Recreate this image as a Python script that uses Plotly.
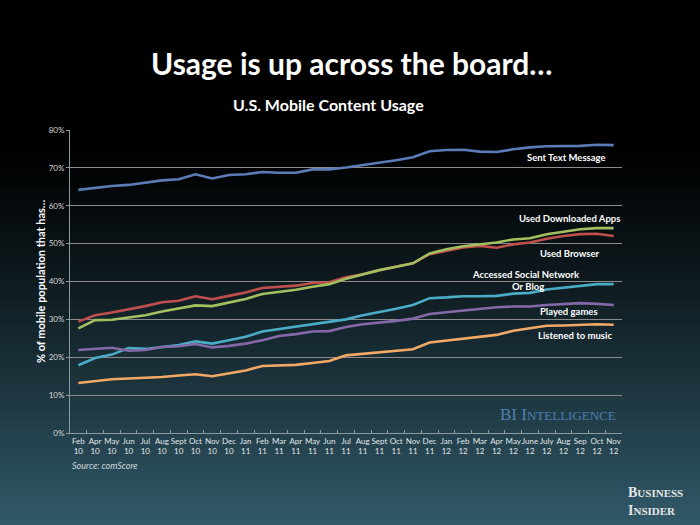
import plotly.graph_objects as go

months = ["Feb<br>10", "Apr<br>10", "May<br>10", "Jun<br>10", "Jul<br>10", "Aug<br>10", "Sept<br>10",
          "Oct<br>10", "Nov<br>10", "Dec<br>10", "Jan<br>11", "Feb<br>11", "Mar<br>11", "Apr<br>11",
          "May<br>11", "Jun<br>11", "Jul<br>11", "Aug<br>11", "Sept<br>11", "Oct<br>11", "Nov<br>11",
          "Dec<br>11", "Jan<br>12", "Feb<br>12", "Mar<br>12", "Apr<br>12", "May<br>12", "June<br>12",
          "July<br>12", "Aug<br>12", "Sep<br>12", "Oct<br>12", "Nov<br>12"]

text_msg = [64.2, 64.7, 65.2, 65.5, 66.1, 66.7, 67.0, 68.3, 67.2, 68.1, 68.3, 68.9, 68.7, 68.7, 69.6,
            69.6, 70.1, 70.7, 71.2, 72.0, 72.8, 74.4, 74.7, 74.8, 74.3, 74.2, 74.9, 75.4, 75.7, 75.7,
            75.8, 76.1, 76.0]
browser = [29.4, 31.1, 31.8, 32.6, 33.5, 34.5, 34.9, 36.1, 35.3, 36.2, 37.1, 38.3, 38.5, 38.9, 39.6,
           39.8, 41.1, 41.9, 43.0, 43.9, 44.8, 47.2, 48.2, 49.0, 49.4, 48.9, 49.8, 50.3, 51.3, 52.0,
           52.5, 52.6, 52.0]
apps = [27.6, 29.8, 29.9, 30.5, 31.1, 32.1, 33.0, 33.7, 33.5, 34.5, 35.4, 36.7, 37.3, 37.8, 38.6,
        39.3, 40.7, 41.9, 43.0, 43.9, 44.8, 47.4, 48.5, 49.3, 49.8, 50.3, 51.1, 51.4, 52.5, 53.1,
        53.8, 54.1, 54.1]
social = [17.9, 19.8, 20.7, 22.4, 22.2, 22.8, 23.2, 24.2, 23.6, 24.5, 25.4, 26.8, 27.4, 28.0, 28.7,
          29.3, 30.0, 31.1, 31.9, 32.8, 33.8, 35.6, 35.8, 36.1, 36.1, 36.2, 36.8, 37.0, 37.9, 38.4,
          38.9, 39.3, 39.3]
games = [21.9, 22.3, 22.5, 21.7, 21.9, 22.7, 22.9, 23.5, 22.6, 23.0, 23.6, 24.5, 25.6, 26.1, 26.8,
         26.9, 28.0, 28.7, 29.1, 29.6, 30.2, 31.4, 31.9, 32.3, 32.6, 33.2, 33.4, 33.4, 33.8, 34.1,
         34.3, 34.1, 33.8]
music = [13.2, 13.7, 14.2, 14.4, 14.5, 14.8, 15.2, 15.5, 15.0, 15.8, 16.5, 17.7, 17.9, 18.0, 18.5,
         19.0, 20.5, 20.9, 21.3, 21.6, 22.1, 23.9, 24.4, 24.8, 25.3, 25.9, 27.0, 27.6, 28.3, 28.4,
         28.6, 28.7, 28.6]

series = [
    ("Sent Text Message", text_msg, "#5b7cb6"),
    ("Used Browser", browser, "#c0504d"),
    ("Used Downloaded Apps", apps, "#a3c060"),
    ("Accessed Social Network Or Blog", social, "#4bacc6"),
    ("Played games", games, "#8468a8"),
    ("Listened to music", music, "#f2a966"),
]

fig = go.Figure()
for name, vals, col in series:
    fig.add_trace(go.Scatter(x=months, y=vals, mode="lines", name=name,
                             line=dict(color=col, width=2.6), showlegend=False))

W, H = 700, 525
L, R, T, B = 70, 78, 130, 92
pw, ph = W - L - R, H - T - B

def px2x(px):
    return (px - L) / pw

def py2y(py):
    return (H - B - py) / ph

# Background gradient built from overlapping horizontal strips
shapes = []
N = 70
for k in range(N):
    y0p = k * H / N
    y1p = (k + 1) * H / N + 2
    mid = (k + 0.5) * H / N
    t = max(0.0, (mid - 140) / (H - 140))
    t = t ** 1.2
    r, g, b = int(50 * t), int(90 * t), int(106 * t)
    shapes.append(dict(type="rect", xref="paper", yref="paper", layer="below",
                       x0=px2x(-5), x1=px2x(W + 5),
                       y0=py2y(y1p), y1=py2y(y0p),
                       fillcolor=f"rgb({r},{g},{b})", line=dict(width=0)))

anns = []
def ann(text, px, py, size, color="white", bold=True, family="Lato", italic=False, xanchor="center"):
    if bold:
        text = f"<b>{text}</b>"
    if italic:
        text = f"<i>{text}</i>"
    anns.append(dict(text=text, xref="paper", yref="paper",
                     x=px2x(px), y=py2y(py), xanchor=xanchor, yanchor="middle",
                     showarrow=False, font=dict(size=size, color=color, family=family)))

ann("Usage is up across the board…", 351, 63, 30)
ann("U.S. Mobile Content Usage", 328, 104, 16)
ann("Sent Text Message", 566, 157, 9.5)
ann("Used Downloaded Apps", 569, 218, 9.5)
ann("Used Browser", 570, 253, 9.5)
ann("Accessed Social Network", 526, 274, 9.5)
ann("Or Blog", 528, 286, 9.5)
ann("Played games", 569, 311, 9.5)
ann("Listened to music", 575, 335, 9.5)
ann("Source: comScore", 70, 465, 9, color="#d0d8dc", bold=False, italic=True, xanchor="left")
anns.append(dict(text="BI I<span style='font-size:13px'>NTELLIGENCE</span>", xref="paper", yref="paper",
                 x=px2x(558), y=py2y(414), xanchor="center", yanchor="middle",
                 showarrow=False, font=dict(size=17, color="#4f80b0", family="Liberation Serif")))
anns.append(dict(text="<b>B<span style='font-size:11px'>USINESS</span><br>I<span style='font-size:11px'>NSIDER</span></b>",
                 xref="paper", yref="paper", x=px2x(655), y=py2y(501),
                 xanchor="center", yanchor="middle", showarrow=False, align="left",
                 font=dict(size=14, color="#e6e6e6", family="Liberation Serif")))
anns.append(dict(text="<b>% of mobile population that has…</b>", xref="paper", yref="paper",
                 x=px2x(40), y=py2y(281), xanchor="center", yanchor="middle",
                 textangle=-90, showarrow=False, font=dict(size=11, color="white", family="Lato")))

fig.update_layout(
    width=W, height=H,
    margin=dict(l=L, r=R, t=T, b=B),
    paper_bgcolor="black",
    plot_bgcolor="rgba(0,0,0,0)",
    shapes=shapes,
    annotations=anns,
    xaxis=dict(type="category", range=[-0.5, len(months) - 0.5], showgrid=False,
               showline=True, linecolor="#8a9aa2", linewidth=1,
               ticks="inside", ticklen=3, tickcolor="#8a9aa2", tickson="boundaries",
               tickfont=dict(size=8, color="#e0e6e8", family="Lato"), tickangle=0),
    yaxis=dict(range=[0, 80], dtick=10, ticksuffix="%", showgrid=True,
               gridcolor="#8c8c8c", gridwidth=1, zeroline=False,
               showline=True, linecolor="#8a9aa2", linewidth=1,
               ticks="outside", ticklen=3, tickcolor="#8a9aa2",
               tickfont=dict(size=8, color="#d8d8d8", family="Lato")),
)

fig.write_html("out.html", config={"displayModeBar": False},
               post_script="document.body.style.margin='0';document.body.style.background='black';")
